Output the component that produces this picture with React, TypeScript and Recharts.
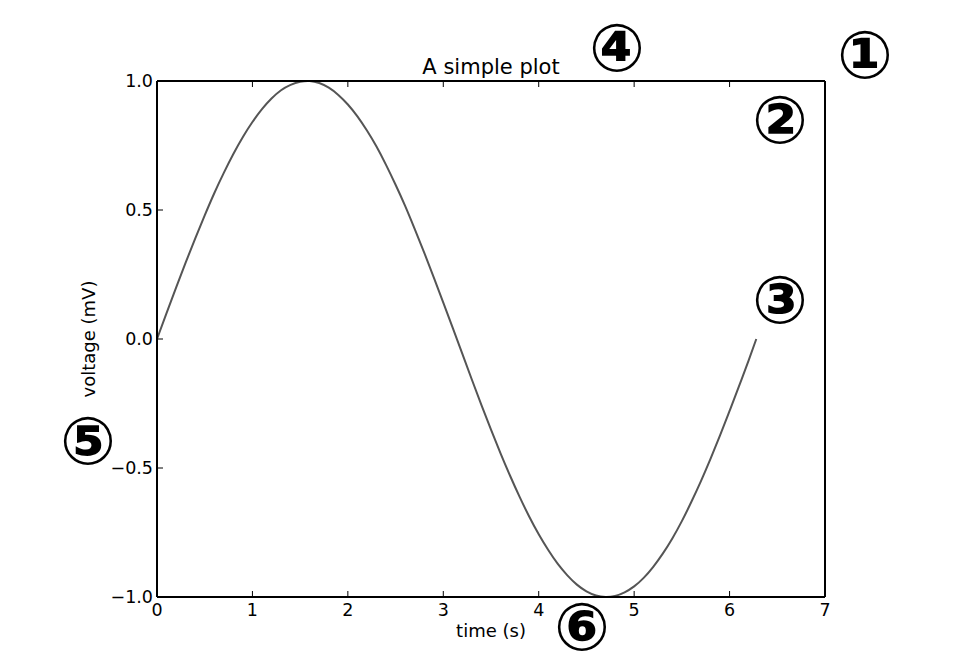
import React from "react";
import { LineChart, Line, XAxis, YAxis, Label } from "recharts";

// one full period, t in seconds, v in mV
const timeValues = [
  0, 0.1, 0.2, 0.3, 0.4, 0.5, 0.6, 0.7, 0.8, 0.9, 1.0, 1.1, 1.2, 1.3, 1.4, 1.5,
  1.6, 1.7, 1.8, 1.9, 2.0, 2.1, 2.2, 2.3, 2.4, 2.5, 2.6, 2.7, 2.8, 2.9, 3.0, 3.1,
  3.2, 3.3, 3.4, 3.5, 3.6, 3.7, 3.8, 3.9, 4.0, 4.1, 4.2, 4.3, 4.4, 4.5, 4.6, 4.7,
  4.8, 4.9, 5.0, 5.1, 5.2, 5.3, 5.4, 5.5, 5.6, 5.7, 5.8, 5.9, 6.0, 6.1, 6.2, 6.28,
];
const voltageValues = [
  0, 0.1, 0.199, 0.296, 0.389, 0.479, 0.565, 0.644, 0.717, 0.783, 0.841, 0.891, 0.932, 0.964, 0.985, 0.997,
  1.0, 0.992, 0.974, 0.946, 0.909, 0.863, 0.808, 0.746, 0.675, 0.598, 0.516, 0.427, 0.335, 0.239, 0.141, 0.042,
  -0.058, -0.158, -0.256, -0.351, -0.443, -0.53, -0.612, -0.688, -0.757, -0.818, -0.872, -0.916, -0.952, -0.978, -0.994, -1.0,
  -0.996, -0.982, -0.959, -0.926, -0.883, -0.832, -0.773, -0.706, -0.631, -0.551, -0.465, -0.374, -0.279, -0.182, -0.083, 0,
];
const xTicks = [0, 1, 2, 3, 4, 5, 6, 7];
const yTicks = [-1, -0.5, 0, 0.5, 1];

const markers = [
  { label: "①", x: 865, y: 55 },
  { label: "②", x: 780, y: 120 },
  { label: "③", x: 780, y: 300 },
  { label: "④", x: 617, y: 48 },
  { label: "⑤", x: 88, y: 441 },
  { label: "⑥", x: 582, y: 627 },
];

const data = timeValues.map((t, i) => ({ t, v: voltageValues[i] }));

const font = "'DejaVu Sans', sans-serif";
const fmtY = (v: number) => v.toFixed(1).replace("-", "\u2212");
const TICK = 6;

// matplotlib style: ticks point inward, labels outside
const BottomTick = (p: any) => (
  <g>
    <line x1={p.x} y1={p.y} x2={p.x} y2={p.y - TICK} stroke="#000" strokeWidth={1} />
    <text x={p.x} y={p.y + 19} textAnchor="middle" fontSize={17.5} fontFamily={font} fill="#000">
      {p.payload.value}
    </text>
  </g>
);
const LeftTick = (p: any) => (
  <g>
    <line x1={p.x} y1={p.y} x2={p.x + TICK} y2={p.y} stroke="#000" strokeWidth={1} />
    <text x={p.x - 4} y={p.y} dy="0.35em" textAnchor="end" fontSize={17.5} fontFamily={font} fill="#000">
      {fmtY(p.payload.value)}
    </text>
  </g>
);
const TopTick = (p: any) => (
  <line x1={p.x} y1={p.y} x2={p.x} y2={p.y + TICK} stroke="#000" strokeWidth={1} />
);
const RightTick = (p: any) => (
  <line x1={p.x} y1={p.y} x2={p.x - TICK} y2={p.y} stroke="#000" strokeWidth={1} />
);

const frame = { stroke: "#000", strokeWidth: 2 };

export default function App() {
  return (
    <div style={{ position: "absolute", left: 0, top: 0, width: 957, height: 662, background: "#fff" }}>
      <LineChart
        width={957}
        height={662}
        data={data}
        margin={{ top: 71, right: 122, bottom: 35, left: 97 }}
      >
        <XAxis
          xAxisId="b"
          dataKey="t"
          type="number"
          domain={[0, 7]}
          ticks={xTicks}
          height={30}
          tickSize={0}
          tickMargin={0}
          tick={<BottomTick />}
          tickLine={false}
          axisLine={frame}
        >
          <Label value="time (s)" position="bottom" offset={-3} style={{ fontSize: 18, fill: "#000", fontFamily: font }} />
        </XAxis>
        <XAxis
          xAxisId="top"
          orientation="top"
          dataKey="t"
          type="number"
          domain={[0, 7]}
          ticks={xTicks}
          height={10}
          tickSize={0}
          tickMargin={0}
          tick={<TopTick />}
          tickLine={false}
          axisLine={frame}
        />
        <YAxis
          yAxisId="l"
          type="number"
          domain={[-1, 1]}
          ticks={yTicks}
          width={60}
          tickSize={0}
          tickMargin={0}
          tick={<LeftTick />}
          tickLine={false}
          axisLine={frame}
          allowDataOverflow
        >
          <Label value="voltage (mV)" angle={-90} position="insideLeft" offset={-8} style={{ fontSize: 18, fill: "#000", fontFamily: font, textAnchor: "middle" }} />
        </YAxis>
        <YAxis
          yAxisId="r"
          orientation="right"
          type="number"
          domain={[-1, 1]}
          ticks={yTicks}
          width={10}
          tickSize={0}
          tickMargin={0}
          tick={<RightTick />}
          tickLine={false}
          axisLine={frame}
        />
        <Line
          xAxisId="b"
          yAxisId="l"
          dataKey="v"
          type="natural"
          stroke="#555"
          strokeWidth={2}
          dot={false}
          isAnimationActive={false}
        />
      </LineChart>
      <svg width={957} height={662} style={{ position: "absolute", left: 0, top: 0, pointerEvents: "none" }}>
        <text x={491} y={74} textAnchor="middle" fontSize={21} fontFamily={font} fill="#000">
          A simple plot
        </text>
        {markers.map((m) => (
          <text
            key={m.label}
            x={m.x}
            y={m.y}
            textAnchor="middle"
            dominantBaseline="central"
            fontSize={66}
            fontWeight="bold"
            fontFamily={font}
            fill="#000"
          >
            {m.label}
          </text>
        ))}
      </svg>
    </div>
  );
}
